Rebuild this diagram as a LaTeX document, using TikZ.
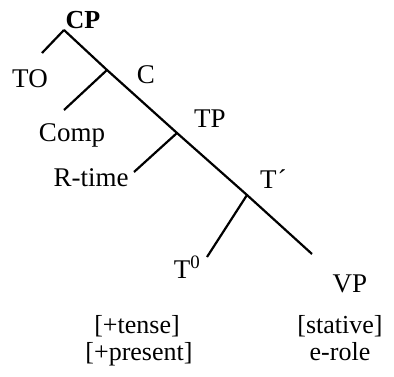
\documentclass[tikz,border=0pt]{standalone}
\usepackage{fontspec}
\setmainfont{Liberation Serif}
\begin{document}
\begin{tikzpicture}[x=1pt,y=-1pt,
  lab/.style={inner sep=0pt, anchor=base, font=\fontsize{27}{32}\selectfont},
  feat/.style={inner sep=0pt, anchor=base, font=\fontsize{26}{31}\selectfont},
  br/.style={line width=2.2pt}]
\useasboundingbox (0,0) rectangle (394,376);
\coordinate (cp) at (64,30);
\coordinate (to) at (42,53);
\coordinate (c) at (107,70);
\coordinate (comp) at (64,110);
\coordinate (tp) at (177,133);
\coordinate (rt) at (134,172);
\coordinate (tb) at (247,195);
\coordinate (t0) at (207,257);
\coordinate (vp) at (312,254);
\draw[br] (cp) -- (c) -- (tp) -- (tb) -- (vp);
\draw[br] (cp) -- (to);
\draw[br] (c) -- (comp);
\draw[br] (tp) -- (rt);
\draw[br] (tb) -- (t0);
\node[lab, font=\fontsize{26}{31}\selectfont\bfseries] (lcp) at (83,28) {CP};
\node[lab] (lto) at (30,87) {TO};
\node[lab] (lc) at (146,83) {C};
\node[lab] (lcomp) at (72,141) {Comp};
\node[lab] (lrt) at (91,186) {R-time};
\node[lab] (ltp) at (210,127) {TP};
\node[lab, anchor=base west] (ltb) at (260,188) {T\kern1pt´};
\node[lab] (lt0) at (187,278) {T\textsuperscript{0}};
\node[lab] (lvp) at (350,292) {VP};
\node[feat] (ltense) at (137,333) {[+tense]};
\node[feat] (lpres) at (139,360) {[+present]};
\node[feat] (lstat) at (340,333) {[stative]};
\node[feat] (lerole) at (340,360) {e-role};
\end{tikzpicture}
\end{document}
